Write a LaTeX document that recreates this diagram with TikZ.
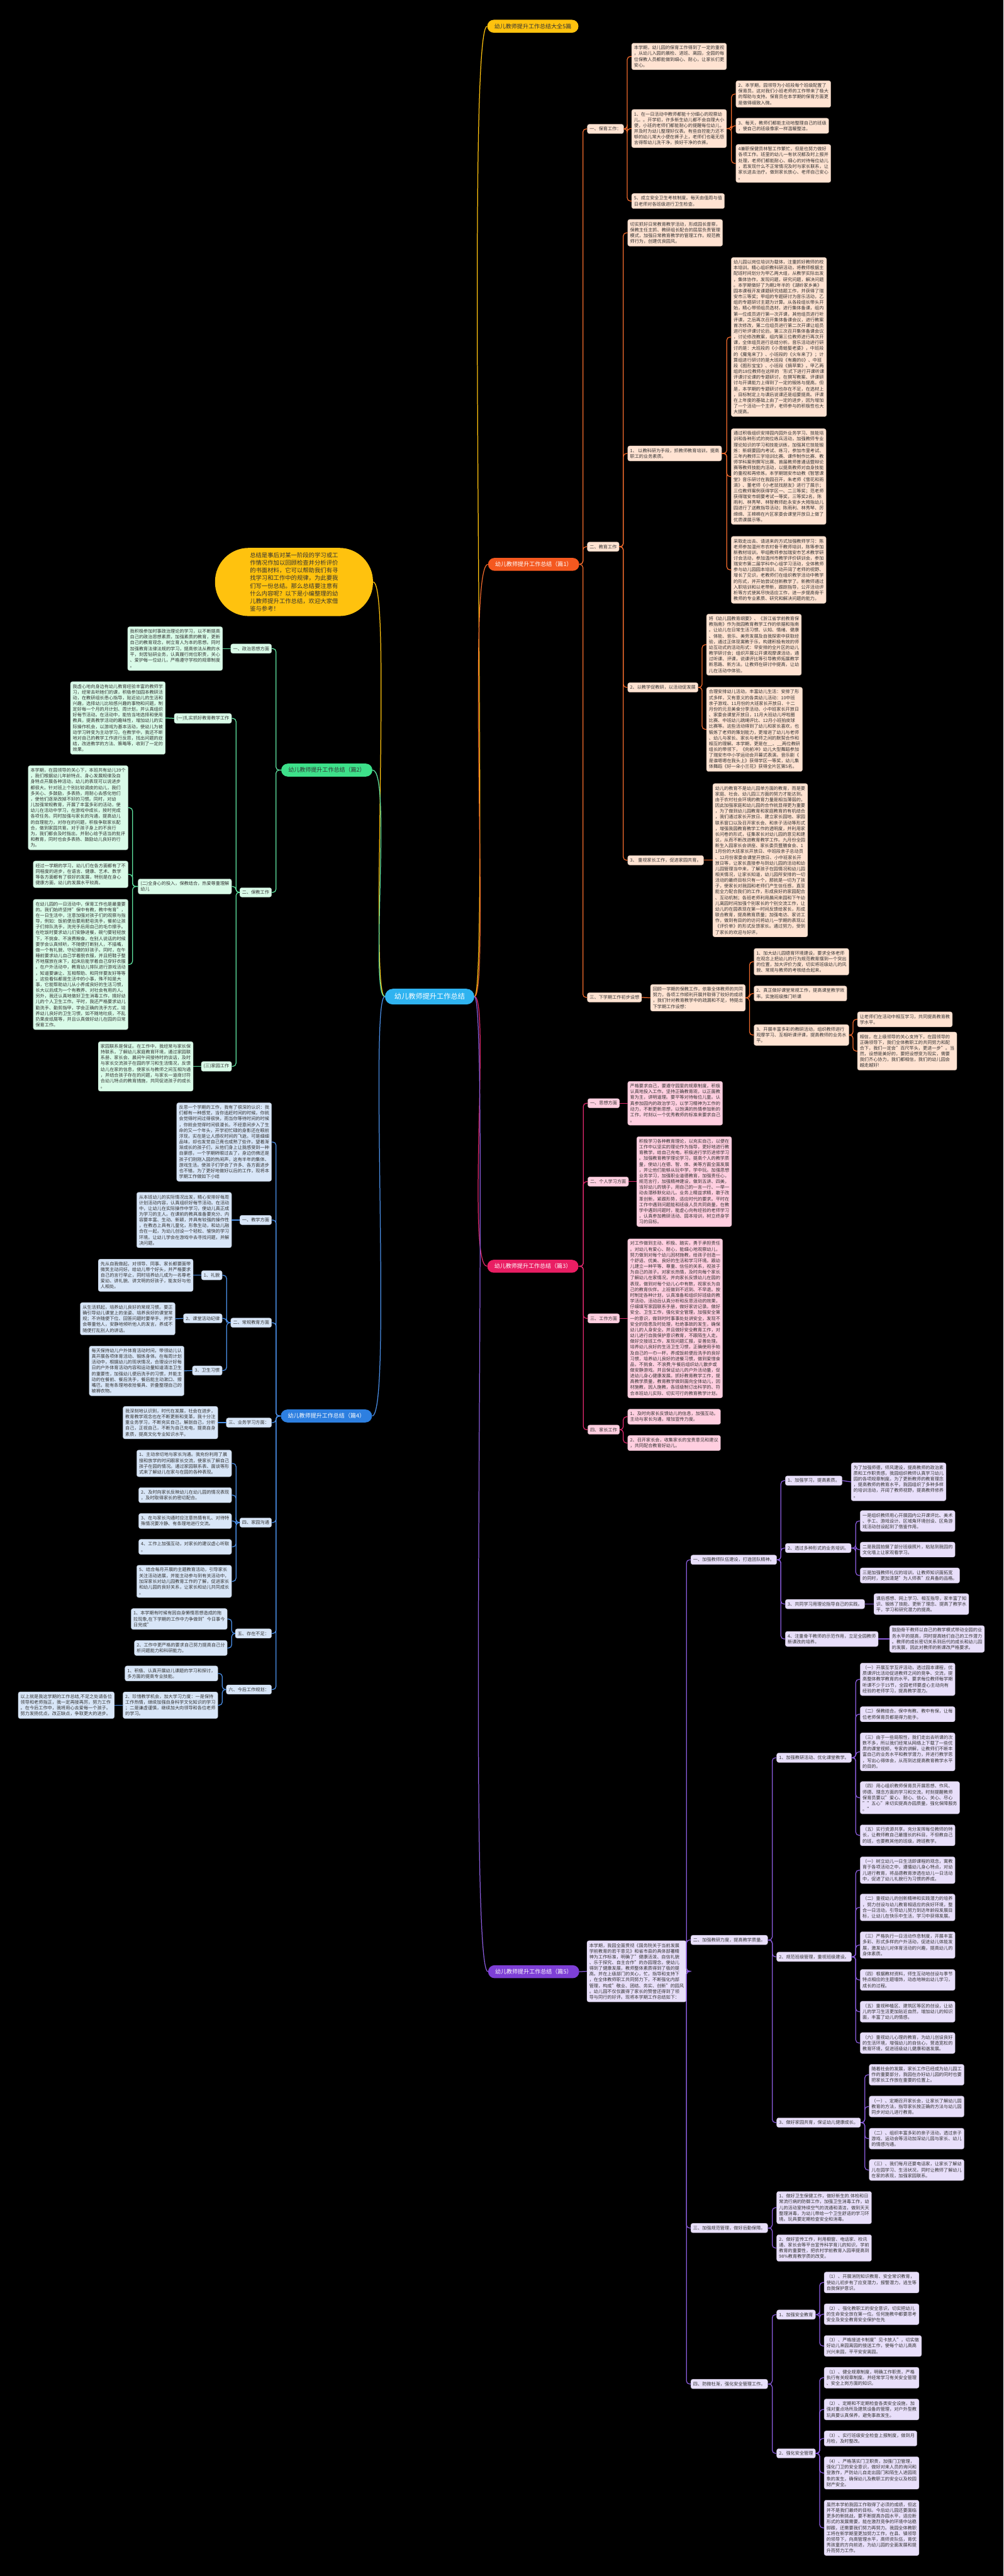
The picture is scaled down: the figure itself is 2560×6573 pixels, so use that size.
\documentclass[tikz,border=0pt]{standalone}
\usepackage{fontspec}
\setmainfont{Noto Sans CJK SC}
\usetikzlibrary{calc}
\definecolor{txt}{HTML}{333333}
\definecolor{yel}{HTML}{FFC20E}
\definecolor{orgT}{HTML}{F4581F}
\definecolor{oline}{HTML}{F06A2C}
\definecolor{ofill}{HTML}{FFE3D2}
\definecolor{pinkT}{HTML}{E91E63}
\definecolor{pline}{HTML}{E0286E}
\definecolor{pfill}{HTML}{FFCFE0}
\definecolor{vioT}{HTML}{7E3FD6}
\definecolor{vline}{HTML}{8A5CDC}
\definecolor{vfill}{HTML}{E8DFFA}
\definecolor{grnT}{HTML}{3DE08A}
\definecolor{gline}{HTML}{5EE3A0}
\definecolor{gfill}{HTML}{D9FBE8}
\definecolor{bluT}{HTML}{2D7FE0}
\definecolor{bline}{HTML}{4A8FE7}
\definecolor{bfill}{HTML}{D8E6F8}
\definecolor{rootC}{HTML}{2FB3F0}
\tikzset{
 base/.style={rounded corners=2.5pt, align=left, inner xsep=3pt, inner ysep=3.3pt, font=\fontsize{5.75pt}{7.35pt}\selectfont, text=txt, anchor=west, line width=0.3pt},
 ob/.style={base, fill=ofill, draw=ofill!80!black},
 pb/.style={base, fill=pfill, draw=pfill!80!black},
 vb/.style={base, fill=vfill, draw=vfill!80!black},
 gb/.style={base, fill=gfill, draw=gfill!80!black, anchor=east},
 bb/.style={base, fill=bfill, draw=bfill!80!black, anchor=east},
 ln/.style={line width=1pt, rounded corners=4pt},
 oc/.style={ln, draw=oline}, pc/.style={ln, draw=pline}, vc/.style={ln, draw=vline},
 gc/.style={ln, draw=gline}, bc/.style={ln, draw=bline},
 rr/.style={to path={-| ($(\tikztotarget)+(-#1,0)$) -- (\tikztotarget)}}, rr/.default=11,
 ll/.style={to path={-| ($(\tikztotarget)+(#1,0)$) -- (\tikztotarget)}}, ll/.default=11,
 ttl/.style={rounded corners=8.25pt, inner xsep=9pt, inner ysep=0pt, minimum height=16.5pt, font=\fontsize{7.25pt}{8pt}\selectfont},
 top/.style={line width=1pt},
}
\begin{document}
\begin{tikzpicture}[x=0.5pt,y=-0.5pt]
\useasboundingbox (0,0) rectangle (2560,6573);
\fill[black] (0,0) rectangle (2560,6573);

% ---------------- root
\node[fill=rootC, text=white, rounded corners=10pt, minimum height=20pt, inner xsep=12pt, font=\fontsize{9pt}{10pt}\selectfont] (root) at (1096,2543) {幼儿教师提升工作总结};

% ---------------- titles
\node[ttl, fill=yel, text=black!80, anchor=east] (t0) at (1476,67) {幼儿教师提升工作总结大全5篇};
\node[ttl, fill=orgT, text=white, anchor=east] (t1) at (1478,1440) {幼儿教师提升工作总结（篇1）};
\node[ttl, fill=pinkT, text=white, anchor=east] (t3) at (1476,3231) {幼儿教师提升工作总结（篇3）};
\node[ttl, fill=vioT, text=white, anchor=east] (t5) at (1478,5031) {幼儿教师提升工作总结（篇5）};
\node[ttl, fill=grnT, text=black!80, anchor=west] (t2) at (717,1965) {幼儿教师提升工作总结（篇2）};
\node[ttl, fill=bluT, text=white, anchor=west] (t4) at (716,3613) {幼儿教师提升工作总结（篇4）};
\node[fill=yel, text=black!80, rounded corners=43pt, minimum width=201.5pt, minimum height=87pt, align=left, font=\fontsize{7.5pt}{9.85pt}\selectfont] (blob) at (750,1485) {总结是事后对某一阶段的学习或工\\作情况作加以回顾检查并分析评价\\的书面材料，它可以帮助我们有寻\\找学习和工作中的规律，为此要我\\们写一份总结。那么总结要注意有\\什么内容呢？以下是小编整理的幼\\儿教师提升工作总结，欢迎大家借\\鉴与参考！};

\draw[top, draw=yel] (root.east) .. controls (1250,2543) and (1185,67) .. (t0.west);
\draw[top, draw=oline] (root.east) .. controls (1250,2543) and (1190,1440) .. (t1.west);
\draw[top, draw=pline] (root.east) .. controls (1250,2543) and (1190,3231) .. (t3.west);
\draw[top, draw=vline] (root.east) .. controls (1250,2543) and (1190,5031) .. (t5.west);
\draw[top, draw=yel] (root.west) .. controls (942,2543) and (1000,1485) .. (blob.east);
\draw[top, draw=gline] (root.west) .. controls (942,2543) and (1000,1965) .. (t2.east);
\draw[top, draw=bline] (root.west) .. controls (942,2543) and (1000,3613) .. (t4.east);

% ================= 篇1
\node[ob] (n11) at (1498,329) {一、保育工作：};
\node[ob] (n111) at (1611,144) {本学期，幼儿园的保育工作得到了一定的重视\\，从幼儿入园的晨检、进班、离园，全园的每\\位保教人员都能做到细心、耐心，让家长们更\\安心。};
\node[ob] (n112) at (1611,328) {1、在一日活动中教师都能十分细心的观察幼\\儿。。开学初，许多新生幼儿都不会自理大小\\便，小班的老师们都能耐心的提醒每位幼儿，\\并及时为幼儿整理好仪表。有些自控能力还不\\够的幼儿常大小便在裤子上，老师们也毫无怨\\言得帮幼儿洗干净，换好干净的衣裤。};
\node[ob] (n1121) at (1877,240) {2、本学期，园领导为小班段每个班级配置了\\保育员。这对我们小班老师的工作带来了极大\\的帮助与支持。保育员在本学期的保育方面更\\是做得细致入微。};
\node[ob] (n1122) at (1877,321) {3、每天，教师们都能主动地整理自己的班级\\，使自己的班级像家一样温暖整洁。};
\node[ob] (n1123) at (1877,417) {4兼职保健员林智工作繁忙，但是也努力做好\\各项工作。班里的幼儿一有状况都及时上报并\\处理，老师们都能耐心、细心的对待每位幼儿\\，若发现什么不正常情况及时与家长联系，让\\家长送去治疗。做到家长放心、老师自己安心\\。};
\node[ob] (n113) at (1611,513) {5、成立安全卫生考核制度。每天由值周与值\\日老师对各班级进行卫生检查。};

\node[ob] (n12) at (1498,1395) {二、教育工作};
\node[ob] (n121) at (1601,594) {切实抓好日常教育教学活动，形成园长督察，\\保教主任主抓、教研组长配合的层层负责管理\\模式，加强日常教育教学的管理工作。规范教\\师行为，创建优良园风。};
\node[ob] (n122) at (1601,1157) {1、 以教科研为手段，抓教师教育培训，提高\\职工的业务素质。};
\node[ob] (n1221) at (1865,860) {幼儿园以岗位培训为载体，注重抓好教师的校\\本培训。精心组织教科研活动，将教师根据主\\配班时间划分为甲乙两大组，从教学实际出发\\，集体协作，发现问题，研究问题，解决问题\\。本学期做好了为期2年半的《湖岭家乡美》\\园本课程开发课题研究结题工作，并获得了瑞\\安市三等奖；甲组的专题研讨为音乐活动，乙\\组的专题研讨主题为计算。从各段组长带头开\\始，精心带领组员选材，进行集体备课，组内\\第一位成员进行第一次开课，其他组员进行听\\评课，之后再次召开集体备课会议，进行教案\\首次修改，第二位组员进行第二次开课让组员\\进行听评课讨论后，第三次召开集体备课会议\\，讨论修改教案，组内第三位教师进行再次开\\课，全体组员进行总结分析。音乐活动进行研\\讨的是：大班段的《小青蛙娶老婆》，中班段\\的《魔鬼来了》、小班段的《火车来了》；计\\算组进行研讨的是大班段《有趣的0》、中班\\段《图形宝宝》、小班段《摘苹果》。甲乙两\\组的18位教师在这样的`形式下进行开课听课\\评课讨论课的专题研讨，在撰写教案、评课研\\讨与开课能力上得到了一定的锻炼与提高。但\\是，本学期的专题研讨也存在不足，在选材上\\，目标制定上与课后说课还是组要提高。评课\\在上年度的基础上由了一定的进步，因为增加\\了一个活动一个主评，老师参与的积极性也大\\大提高。};
\node[ob] (n1222) at (1865,1216) {通过积极组织安排园内园外业务学习、技能培\\训和各种形式的岗位练兵活动，加强教师专业\\理论知识的学习和技能训练，加强其它技能锻\\炼：新纲要园内考试、练习，参加市里考试、\\三年内教师三字培训比赛、课件制作比赛、教\\师学科案例撰写比赛、首届教师普通话暨辩论\\赛等教师技能内活动，以提高教师对自身技能\\的重视和再修炼。本学期瑞安市幼教《智慧课\\堂》音乐研讨在我园召开，朱老师《雪花和雨\\滴》、董老师《小老鼠找朋友》进行了展示；\\三位教师案例获得学区一、二三等奖；范老师\\获得瑞安市纲要考试一等奖，三等奖2名，陈\\雨利、林秀琴、林智教师赴永安乡大拇指幼儿\\园进行了送教指导活动；陈雨利、林秀琴、厉\\绵绵、王棉棉在片区家委会课堂开放日上做了\\优质课展示等。};
\node[ob] (n1223) at (1865,1454) {采取走出去、请进来的方式加强教师学习：陈\\老师参加温州市农村骨干教师培训，陈等参加\\新教材培训，甲组教师参加瑞安市艺术教学研\\讨会活动，参加温州市教学评价研训会，参加\\瑞安市第二届学科中心组学习活动，全体教师\\参与幼儿园园本培训。动开阔了老师的视野、\\增长了见识，老教师们在组织教学活动中教学\\的形式，并开始尝试创新教学了。新教师通过\\入职培训和以老带新，跟踪指导，公开活动评\\析等方式使其尽快适应工作，进一步提高骨干\\教师的专业素质、研究和解决问题的能力。};
\node[ob] (n123) at (1601,1754) {2、以教学促教研，以活动促发展};
\node[ob] (n1231) at (1802,1645) {将《幼儿园教育纲要》、《浙江省学前教育保\\教指南》作为我园教育教学工作的依据和指南\\。让幼儿在日常生活习惯、认知、情绪、健康\\、体能、音乐、美劳发展及自我探索中获取经\\验，通过正体现寓教于乐，构建积极有效的师\\幼互动式的活动形式：早安排的全片区的幼儿\\教学研讨会；组织开展公开课观摩课活动，通\\过听课、评课，说课评比等引导教师拓展教学\\新思路、新方法。让教师在研讨中提高，让幼\\儿在活动中体验。};
\node[ob] (n1232) at (1802,1861) {合理安排幼儿活动，丰富幼儿生活：安排了形\\式多样，又有意义的各类幼儿活动：10中班\\亲子游戏、11月份的大班家长开放日、十二\\月份的元旦美食分享活动、小中班家长开放日\\、家委会课堂开放日，11月大班幼儿呼啦圈\\比赛、中班幼儿跳绳评比、12月小班拍皮球\\比赛等。这些活动得到了幼儿和家长喜欢，也\\锻炼了老师的策划能力，更增进了幼儿与老师\\、幼儿与家长、家长与老师之间的默契合作和\\相互的理解。本学期，更是在\_\_、\_\_两位教研\\组长的带领下，《向前冲》幼儿大型舞蹈参加\\了瑞安市中小学运动会开幕式表演。音乐剧《\\是谁嗯嗯在我头上》获得学区一等奖，幼儿集\\体舞蹈《好一朵小兰花》获得全片区第5名。};
\node[ob] (n124) at (1601,2195) {3、 重视家长工作，促进家园共育。};
\node[ob] (n1241) at (1818,2195) {幼儿的教育不是幼儿园单方面的教育，而是要\\家庭、社会、幼儿园三方面的努力才能达到。\\由于农村社会环境的教育力量是相当薄弱的，\\因此加强家庭和幼儿园的合作就显得更为重要\\，为了做到幼儿园教育和家庭教育的有机结合\\，我们通过家长开放日、建立家长园地、家园\\联系窗口以及召开家长会、和亲子活动等形式\\，增强我园教育教学工作的透明度，并利用家\\长问卷的形式，征集家长对幼儿园的意见和建\\议，从而不断改进教育教学工作。九月份全园\\新生入园家长会讲座、家长委员暨膳食会、1\\1月份的大班家长开放日、中班段亲子总动员\\、12月份家委会课堂开放日、小中班家长开\\放日等，让家长直接参与到幼儿园的活动和幼\\儿园管理当中来，了解孩子在园情况和幼儿园\\相关情况，让家长知道，幼儿园所安排的一切\\活动的最终目标只有一个，那就是一切为了孩\\子，使家长对我园和老师们产生信任感，直至\\能全力配合我们的工作，形成良好的家园配合\\、互动机制；各班老师利用晨间来园和下午幼\\儿离园时间加强个别家长的个别交流工作，让\\幼儿的在园表现在第一时间反馈给家长，形成\\联合教育，提高教育质量；加强电访、家访工\\作，做到有目的的访问将幼儿一学期的表现以\\《评价单》的形式反馈家长。通过努力，受到\\了家长的欢迎与好评。};

\node[ob] (n13) at (1498,2545) {三、下学期工作初步设想};
\node[ob] (n131) at (1659,2546) {回顾一学期的保教工作，依靠全体教师的共同\\努力，各项工作顺利开展并取得了较好的成绩\\，我们针对教育教学中的疏漏和不足，特提出\\下学期工作设想：};
\node[ob] (n1311) at (1923,2454) {1、加大幼儿园德育环境建设，要求全体老师\\在观念上把幼儿的行为规范教育摆到一个突出\\的位置，加大评价力度，切实将班级幼儿的风\\貌、常规与教师的考核结合起来。};
\node[ob] (n1312) at (1923,2535) {2、真正做好课堂常规工作，提高课堂教学效\\率。实施班级推门听课};
\node[ob] (n1313) at (1923,2641) {3、开展丰富多彩的教研活动，组织教师进行\\观摩学习、互相听课评课，提高教师的业务水\\平。};
\node[ob] (n13131) at (2187,2601) {让老师们在活动中相互学习，共同提高教育教\\学水平。};
\node[ob] (n13132) at (2187,2682) {相信，在上级领导的关心支持下，在园领导的\\正确领导下，我们全体教职工的共同努力和配\\合下，我们一定会"百尺竿头，更进一步"。当\\然，设想是美好的，要把设想变为现实，需要\\我们齐心协力，我们都相信，我们的幼儿园会\\越走越好!};

\foreach \c in {n11,n12,n13} \draw[oc] (t1.east) to[rr] (\c.west);
\foreach \c in {n111,n112,n113} \draw[oc] (n11.east) to[rr] (\c.west);
\foreach \c in {n1121,n1122,n1123} \draw[oc] (n112.east) to[rr] (\c.west);
\foreach \c in {n121,n122,n123,n124} \draw[oc] (n12.east) to[rr] (\c.west);
\foreach \c in {n1221,n1222,n1223} \draw[oc] (n122.east) to[rr] (\c.west);
\foreach \c in {n1231,n1232} \draw[oc] (n123.east) to[rr] (\c.west);
\draw[oc] (n124.east) -- (n1241.west);
\draw[oc] (n13.east) -- (n131.west);
\foreach \c in {n1311,n1312,n1313} \draw[oc] (n131.east) to[rr] (\c.west);
\foreach \c in {n13131,n13132} \draw[oc] (n1313.east) to[rr] (\c.west);

% ================= 篇3
\node[pb] (n31) at (1499,2815) {一、思想方面};
\node[pb] (n311) at (1601,2815) {严格要求自己，要遵守园里的规章制度，积极\\认真地投入工作。坚持正确教育观，以正面教\\育为主，讲明道理。要平等对待每位儿童。认\\真参加园内的政治学习，以学习精神为工作的\\动力，不断更新思想，以饱满的热情参加新的\\工作，时刻以一个优秀教师的标准来要求自己\\。};
\node[pb] (n32) at (1499,3015) {二、个人学习方面};
\node[pb] (n321) at (1624,3015) {积极学习各种教育理论，以充实自己，以便在\\工作中以坚实的理论作为指导，更好地进行教\\育教学，给自己充电，积极进行学历进修学习\\。加强教育教学理论学习，提高个人的教学质\\量，使幼儿在德、智、体、美等方面全面发展\\，并让他们能够从玩中学，学中玩。加强思想\\业务学习，加强职业道德教育，加强责任心，\\规范言行，加强精神建设，做到五讲、四美，\\当好幼儿的镜子，用自己的一言一行、一举一\\动去潜移默化幼儿。业务上精益求精，敢于改\\革创新，紧跟形势，适应时代的要求。平时在\\工作中遇到问题能和班级人员共同商量，在教\\学中遇到问题时，能虚心向有经验的老师学习\\，认真参加教研活动、园本培训，树立终身学\\习的目标。};
\node[pb] (n33) at (1499,3364) {三、工作方面};
\node[pb] (n331) at (1601,3364) {对工作做到主动、积极、踏实，勇于承担责任\\。对幼儿有爱心、耐心，能细心地观察幼儿，\\努力做到对每个幼儿因材施教，给孩子创造一\\个舒适、优美、良好的生活和学习环境。跟幼\\儿建立一种平等、尊重、信任的关系，视孩子\\为自己的孩子。对家长热情，及时向每个家长\\了解幼儿在家情况，并向家长反馈幼儿在园的\\表现，做到对每个幼儿心中有数，视家长为自\\己的教育伙伴。上班做到不迟到、不早退。按\\时制定各种计划，认真准备和组织好班级的教\\学活动，活动后认真分析和反思活动的效果，\\仔细填写家园联系手册，做好家访记录。做好\\安全、卫生工作，强化安全管理，加强安全第\\一的意识，做到时时事事处处讲安全，发现不\\安全的隐患及时处理，杜绝事故的发生，确保\\幼儿的人身安全。并且做好安全教育工作，对\\幼儿进行自我保护意识教育，不跟陌生人走。\\做好交接班工作，发现问题汇报，妥善处理。\\培养幼儿良好的生活卫生习惯，正确使用手帕\\及自己的一巾一杯，养成饭前便后洗手的良好\\习惯，培养幼儿良好的进餐习惯，做到爱惜食\\品，不挑食、不浪费;午餐后组织幼儿散步或\\做安静游戏。并且保证幼儿的户外活动量，促\\进幼儿身心健康发展。抓好教育教学工作，提\\高教学质量，教育教学做到面向全体幼儿，因\\材施教，因人施教，各班级制订出科学的、符\\合本班幼儿实际、切实可行的教育教学计划。};
\node[pb] (n34) at (1499,3648) {四、家长工作};
\node[pb] (n341) at (1601,3615) {1、及时向家长反馈幼儿的信息，加强互动。\\主动与家长沟通，增加宣传力度。};
\node[pb] (n342) at (1601,3682) {2、召开家长会，收集家长的宝贵意见和建议\\，共同配合教育好幼儿。};
\foreach \c in {n31,n32,n33,n34} \draw[pc] (t3.east) to[rr] (\c.west);
\draw[pc] (n31.east) -- (n311.west);
\draw[pc] (n32.east) -- (n321.west);
\draw[pc] (n33.east) -- (n331.west);
\foreach \c in {n341,n342} \draw[pc] (n34.east) to[rr] (\c.west);

% ================= 篇5
\node[vb] (n5) at (1497,5030) {本学期，我园全面贯彻《国务院关于当前发展\\学前教育的若干意见》和省市县的具体部署精\\神为工作标准，明确了"健康活泼、自信礼貌\\、乐于探究、自主合作"的办园理念，使幼儿\\得到了健康发展，教师整体素质得到了极的提\\高。并在上级部门的关心，忙，指导和支持下\\，在全体教师职工共同努力下，不断强化内部\\管理，构成"敬业、团结、务实、创新"的园风\\。幼儿园不仅仅赢得了家长的赞誉还得到了领\\导与同行的好评。现将本学期工作总结如下：};
\node[vb] (n51) at (1762,3980) {一、加强教师队伍建设，打造团队精神。};
\node[vb] (n511) at (2003,3778) {1、加强学习，提高素质。};
\node[vb] (n5111) at (2171,3781) {为了加强师德，师风建设，提高教师的政治素\\质和工作职责感，我园组织教师认真学习幼儿\\园的各项规章制度。为了更新教师的教育理念\\，提高教师的教育水平，我园组织了多种多样\\的培训活动，开阔了教师视野，提高教师修养\\。};
\node[vb] (n512) at (2003,3950) {2、透过多种形式的业务培训。};
\node[vb] (n5121) at (2194,3881) {一是组织教师用心开展园内公开课评比、美术\\、手工、游戏设计、区域角环境创设、区角游\\戏活动创设起到了借鉴作用。};
\node[vb] (n5122) at (2194,3954) {二是我园拍摄了部分班级照片，粘贴到我园的\\文化墙上让家观看学习。};
\node[vb] (n5123) at (2194,4020) {三是加强教师礼仪的培训，让教师知识面拓宽\\的同时，更加清楚"为人师表"应具备的品格。};
\node[vb] (n513) at (2003,4093) {3、共同学习用理论指导自己的实践。};
\node[vb] (n5131) at (2229,4093) {课后感想、网上学习、相互指导，家丰富了知\\识、锻炼了技能、更新了理念、提高了教学水\\平，学习和研究潜力的提高。};
\node[vb] (n514) at (2003,4182) {4、注重骨干教师的示范作用，立足全园教师\\新课改的培养。};
\node[vb] (n5141) at (2269,4182) {鼓励骨干教师以自己的教学模式带动全园的业\\务水平的提高，同时提高她们自己的工作潜力\\。教师的成长密切关系到后代的成长和幼儿园\\的发展，因此对教师的新课改严格要求。};

\node[vb] (n52) at (1762,4950) {二、加强教研力度，提高教学质量。};
\node[vb] (n521) at (1981,4485) {1、加强教研活动、优化课堂教学。};
\node[vb] (n5211) at (2194,4285) {（一）开展互学互评活动，透过园本课程，优\\质课评比活动促进教师之间的竞争、交流，提\\高整体教学教育的水平。要求每位教师每学期\\听课不少于15节，全园老师要虚心主动向有\\经验的老师学习，提高教学潜力。};
\node[vb] (n5212) at (2194,4374) {（二）保教结合。保中有教、教中有保，让每\\位老师保育员都是得力能手。};
\node[vb] (n5213) at (2194,4470) {（三）由于一些局限性，我们走出去听课的次\\数不多，所以我们经常从网络上下载了一些优\\质的课堂视频，专家的讲解，让教师们不断丰\\富自己的业务水平和教学潜力，并进行教学思\\，写出心得体会，从而到达提高教育教学水平\\的目的。};
\node[vb] (n5214) at (2194,4587) {（四）用心组织教师保育员开展思想、作风、\\师德、理念方面的学习和交流。时刻提醒教师\\保育员要以"爱心、耐心、信心、关心、尽心\\""五心"来切实提高办园质量，强化保障服务\\。"};
\node[vb] (n5215) at (2194,4683) {（五）实行资源共享。充分发挥每位教师的特\\长，让教师教自己最擅长的科目，不但教自己\\的班，也要教其他的班级，跨班教学。};
\node[vb] (n522) at (1981,4993) {2、规范班级管理，重视班级建设。};
\node[vb] (n5221) at (2194,4772) {（一）树立幼儿一日生活即课程的观念，寓教\\育于各项活动之中，遵循幼儿身心特点，对幼\\儿进行教育，将品德教育渗透在幼儿一日活动\\中，促进了幼儿礼貌行为习惯的养成。};
\node[vb] (n5222) at (2194,4867) {（二）重视幼儿的创新精神和实践潜力的培养\\，努力创设与幼儿教育相适应的良好环境，整\\合一日活动，引导幼儿努力到达年龄段发展目\\标，让幼儿在快乐中生活，学习中获得发展。};
\node[vb] (n5223) at (2194,4963) {（三）严格执行一日活动作息制度，开展丰富\\多彩、形式多样的户外活动，促进幼儿体能发\\展，激发幼儿对体育活动的兴趣，提高幼儿的\\身体素质。};
\node[vb] (n5224) at (2194,5052) {（四）根据教材资料，师生互动地创设与季节\\特点相应的主题墙饰，动态地映出幼儿学习，\\成长的过程。};
\node[vb] (n5225) at (2194,5133) {（五）重视种植区、建筑区等区的创设，让幼\\儿的学习生活更加贴近自然，增加幼儿的知识\\面，丰富了幼儿的情感。};
\node[vb] (n5226) at (2194,5213) {（六）重视幼儿心理的教育，为幼儿创设良好\\的生活环境，增强幼儿的自信心，营造宽松的\\教育环境，促进班级幼儿健康和谐发展。};
\node[vb] (n523) at (1981,5416) {3、做好家园共育，保证幼儿健康成长。};
\node[vb] (n5231) at (2217,5294) {随着社会的发展，家长工作已经成为幼儿园工\\作的重要部分，我园在办好幼儿园的同时也要\\把家长工作放在重要的位置上。};
\node[vb] (n5232) at (2217,5375) {（一）、定期召开家长会，让家长了解幼儿园\\教育的方法，指导家长按正确的方法与幼儿园\\同步对幼儿进行教育。};
\node[vb] (n5233) at (2217,5457) {（二）、组织丰富多彩的亲子活动，透过亲子\\游戏、运动会等活动加深幼儿园与家长、幼儿\\的情感沟通。};
\node[vb] (n5234) at (2217,5537) {（三）、我们每月还要电话家，让家长了解幼\\儿在园学习、生活状况，同时让教师了解幼儿\\在家的表现，加强家园联系。};

\node[vb] (n53) at (1762,5685) {三、加强规范管理，做好后勤保障。};
\node[vb] (n531) at (1981,5633) {1、做好卫生保健工作，做好新生的.体检和日\\常流行病的防御工作，加强卫生消毒工作，幼\\儿的活动室持续空气的流通和清洁，做到天天\\整理消毒，为幼儿带给一个卫生舒适的学习环\\境。玩具要定期检查安全和消毒。};
\node[vb] (n532) at (1981,5736) {2、做好宣传工作，利用橱窗、电话家、校讯\\通、家长会等平台宣传科学育儿的知识，学前\\教育的重要性，把农村学前教育入园率提高到\\98\%教育教学质的改变。};

\node[vb] (n54) at (1762,6083) {四、防微杜渐，强化安全管理工作。};
\node[vb] (n541) at (1981,5906) {1、加强安全教育};
\node[vb] (n5411) at (2102,5824) {（1）、开展消防知识教育、安全常识教育，\\使幼儿初步有了应变潜力，报警潜力，逃生等\\自我保护意识。};
\node[vb] (n5412) at (2102,5905) {（2）、强化教职工的安全意识，切实把幼儿\\的生命安全放在第一位。任何施教中都要思考\\安全及安全教育安全保护在先};
\node[vb] (n5413) at (2102,5986) {（3）、严格接送卡制度"见卡放人"，切实做\\好幼儿来园离园的接送工作，使每个幼儿高高\\兴兴来园，平平安安离园。};
\node[vb] (n542) at (1981,6260) {2、强化安全管理};
\node[vb] (n5421) at (2102,6067) {（1）、健全规章制度，明确工作职责，严格\\执行有关规章制度。并经常学习有关安全管理\\、安全上岗方面的知识。};
\node[vb] (n5422) at (2102,6148) {（2）、定期和不定期检查各类安全设施，加\\强对重点场所及建筑设备的管理，对户外型教\\玩具要认真保养，避免事故发生。};
\node[vb] (n5423) at (2102,6222) {（3）、实行班级安全检查上报制度，做到月\\月检，及时整改。};
\node[vb] (n5424) at (2102,6310) {（4）、严格落实门卫职责，加强门卫管理，\\强化门卫的安全意识，做好对来人员的询问和\\登激作，严防幼儿自走出园门和陌生人进园观\\象的发生，确保幼儿及教职工的安全以及校园\\财产安全。};
\node[vb] (n5425) at (2102,6450) {虽然本学前我园工作取得了必须的成绩，但这\\并不是我们最终的目标。今后幼儿园还要面临\\更多的新挑战，要不断提高办园水平，适应新\\形式的发展需要，能在激烈竞争的环境中站稳\\脚跟，还需要我们努力再努力。我园全体教职\\工将在新学期里更加努力工作，在县、镇领导\\的领导下，向高管理水平，高师资队伍，育优\\秀孩童的方向前进，为幼儿园的全面发展和提\\升而努力工作。};

\draw[vc] (t5.east) -- (n5.west);
\foreach \c in {n51,n52,n53,n54} \draw[vc] (n5.east) to[rr] (\c.west);
\foreach \c in {n511,n512,n513,n514} \draw[vc] (n51.east) to[rr] (\c.west);
\draw[vc] (n511.east) -- (n5111.west);
\foreach \c in {n5121,n5122,n5123} \draw[vc] (n512.east) to[rr] (\c.west);
\draw[vc] (n513.east) -- (n5131.west);
\draw[vc] (n514.east) -- (n5141.west);
\foreach \c in {n521,n522,n523} \draw[vc] (n52.east) to[rr] (\c.west);
\foreach \c in {n5211,n5212,n5213,n5214,n5215} \draw[vc] (n521.east) to[rr] (\c.west);
\foreach \c in {n5221,n5222,n5223,n5224,n5225,n5226} \draw[vc] (n522.east) to[rr] (\c.west);
\foreach \c in {n5231,n5232,n5233,n5234} \draw[vc] (n523.east) to[rr] (\c.west);
\foreach \c in {n531,n532} \draw[vc] (n53.east) to[rr] (\c.west);
\foreach \c in {n541,n542} \draw[vc] (n54.east) to[rr] (\c.west);
\foreach \c in {n5411,n5412,n5413} \draw[vc] (n541.east) to[rr] (\c.west);
\foreach \c in {n5421,n5422,n5423,n5424,n5425} \draw[vc] (n542.east) to[rr] (\c.west);

% ================= 篇2
\node[gb] (n21) at (693,1655) {一、政治思想方面};
\node[gb] (n211) at (568,1655) {我积极参加时事政治理论的学习，以不断提高\\自己的政治思想素质，加强素质的教育，更新\\自己的教育观念，树立育人为本的思想。同时\\加强教育法律法规的学习，提高依法从教的水\\平，刻苦钻研业务，认真履行岗位职责，关心\\、爱护每一位幼儿，严格遵守学校的规章制度\\。};
\node[gb] (n22) at (693,2277) {二、保教工作};
\node[gb] (n221) at (591,1833) {(一)扎实抓好教育教学工作};
\node[gb] (n2211) at (422,1832) {我虚心地向身边有幼儿教育经验丰富的教师学\\习，经常去听她们的课，积极参加园本教研活\\动，在教研组长悉心指导，贴近幼儿的生活和\\兴趣，选择幼儿比较感兴趣的事物和问题，制\\定好每一个月的月计划、周计划，并认真组织\\好每节活动。在活动中，能恰当地选择和使用\\教具，提高教学活动的趣味性，增加幼儿的实\\际操作机会，以游戏为基本活动，使幼儿为被\\动学习转变为主动学习。在教学中，我还不断\\地对自己的教学工作进行反思，找出问题的症\\结，改进教学的方法、策略等，收到了一定的\\效果。};
\node[gb] (n222) at (591,2262) {(二)全身心的投入，保教结合，热爱尊重理解\\幼儿};
\node[gb] (n2221) at (327,2061) {本学期，在园领导的关心下，本班共有幼儿39个\\，我们根据幼儿年龄特点、身心发展规律及自\\身特点开展各种活动，幼儿的表现可以说进步\\都很大。针对班上个别比较调皮的幼儿，我们\\多关心、多鼓励，多表扬，用耐心去感化他们\\，使他们逐渐改掉不好的习惯。同时，对幼\\儿加强常规教育，开展了丰富多彩的活动，使\\幼儿在活动中学习，在游戏中成长，按时完成\\各项任务。同时加强与家长的沟通，提高幼儿\\的自理能力，对存在的问题，积极争取家长配\\合，做到家园共育。对于孩子身上的不良行\\为，我们都会及时指出，并耐心给予适当的批评\\和教育，同时也会多表扬、鼓励幼儿良好的行\\为。};
\node[gb] (n2222) at (327,2231) {经过一学期的学习，幼儿们在各方面都有了不\\同程度的进步，在语言、健康、艺术、数学\\等各方面都有了很好的发展，特别是在身心\\健康方面，幼儿的发展水平较高。};
\node[gb] (n2223) at (327,2461) {在幼儿园的一日活动中，保育工作也是最重要\\的。我们始终坚持"保中有教，教中有育"，\\在一日生活中，注意加强对孩子们的观察与指\\导，例如：饭前便后要用肥皂洗手，餐前让孩\\子们排队洗手，洗完手后用自己的毛巾擦手。\\在吃饭时要求幼儿们安静进餐，碗勺要轻轻放\\下，不挑食、不浪费粮食。在别人说话的时候\\要学会认真倾听，不随便打断别人，不插嘴，\\做一个有礼貌、守纪律的好孩子。同时，在午\\睡前要求幼儿自己学着脱衣服，并且把鞋子整\\齐地摆放在床下，起床后能学着自己穿好衣服\\。在户外活动中，教育幼儿排队进行游戏活动\\，知道要谦让、互相帮助、和同伴要友好等等\\。这些看似都是生活中的小事，殊不知是大\\事，它能帮助幼儿从小养成良好的生活习惯，\\长大以后成为一个有教养、对社会有用的人。\\另外，我还认真地做好卫生消毒工作，搞好幼\\儿的个人卫生工作。平时，我还严格要求幼儿\\勤洗手、勤剪指甲，学会正确的洗手方式，培\\养幼儿良好的卫生习惯，如不随地吐痰，不乱\\扔果皮纸屑等，并且认真做好幼儿在园的日常\\保育工作。};
\node[gb] (n223) at (591,2721) {(三)家园工作};
\node[gb] (n2231) at (493,2721) {家园联系是保证。在工作中，我经常与家长保\\持联系，了解幼儿家庭教育环境，通过家园联\\系册、家长会、晨间午间接待时的谈话，及时\\与家长交流孩子在园的学习和生活情况，反馈\\幼儿在家的信息，使家长与教师之间互相沟通\\，并结合孩子存在的问题，与家长一道商讨符\\合幼儿特点的教育措施，共同促进孩子的成长\\。};
\foreach \c in {n21,n22} \draw[gc] (t2.west) to[ll] (\c.east);
\draw[gc] (n21.west) -- (n211.east);
\foreach \c in {n221,n222,n223} \draw[gc] (n22.west) to[ll] (\c.east);
\draw[gc] (n221.west) -- (n2211.east);
\foreach \c in {n2221,n2222,n2223} \draw[gc] (n222.west) to[ll] (\c.east);
\draw[gc] (n223.west) -- (n2231.east);

% ================= 篇4
\node[bb] (n40) at (693,2914) {反思一个学期的工作，我有了很深的认识：我\\们都有一种感觉，当你追赶时间的时候，你就\\会觉得时间过得很快，而当你等待时间的时候\\，你就会觉得时间很漫长。不经意间步入了生\\命的又一个年头，开学初忙碌的身影还在眼前\\浮现，实在是让人感叹时间的飞逝。可是细细\\品味，却也发觉自己竟也成熟了些许。望着渐\\渐成长的孩子们，从他们身上让我感受到一种\\自豪感，一个学期转眼过去了，身边仿佛还是\\孩子们刚刚入园的热闹声，这有半年的集体、\\游戏生活。使孩子们学会了许多、各方面进步\\也不错。为了更好地做好以后的工作，现将本\\学期工作做如下小结};
\node[bb] (n41) at (693,3113) {一、教学方面};
\node[bb] (n411) at (591,3113) {从本班幼儿的实际情况出发，精心安排好每周\\计划活动内容，认真组织好每节活动。在活动\\中，让幼儿在实际操作中学习，使幼儿真正成\\为学习的主人。在课前的教具准备要充分、内\\容要丰富、生动、新颖，并具有较强的操作性\\，在教态上具有儿童化，形象生动，和幼儿融\\合在一起，为幼儿创设一个轻松、愉快的学习\\环境。让幼儿学会在游戏中去寻找问题，并解\\决问题。};
\node[bb] (n42) at (693,3375) {二、常规教育方面};
\node[bb] (n421) at (567,3254) {1、礼貌};
\node[bb] (n4211) at (493,3254) {先从自我做起，对领导、同事、家长都要面带\\微笑主动问好。给幼儿带个好头，并严格要求\\自己的言行举止，同时培养幼儿成为一名尊老\\爱幼、讲礼貌、讲文明的好孩子，能友好与他\\人相处。};
\node[bb] (n422) at (567,3364) {2、课堂活动纪律};
\node[bb] (n4221) at (447,3365) {从生活抓起，培养幼儿良好的常规习惯。要正\\确引导幼儿课堂上的坐姿、培养良好的课堂常\\规；不许随便下位、回答问题时要举手、并学\\会尊重他人，安静地倾听他人的发言，养成不\\随便打乱别人的讲话。};
\node[bb] (n423) at (567,3497) {3、卫生习惯};
\node[bb] (n4231) at (470,3498) {每天保持幼儿户外体育活动时间，带领幼儿认\\真开展各项体育活动、锻炼身体。在每周计划\\活动中，根据幼儿的现状情况，合理设计好每\\日的户外体育活动内容和运动量知道清洁卫生\\的重要性，加强幼儿便后洗手的习惯，并能主\\动的在餐前、餐后洗手，餐后能主动漱口、擦\\嘴巴，能有条理地收拾餐具、折叠整理自己的\\被褥衣物。};
\node[bb] (n43) at (693,3630) {三、业务学习方面：};
\node[bb] (n431) at (556,3630) {我深刻地认识到，时代在发展，社会在进步，\\教育教学观念也在不断更新和变革，我十分注\\重业务学习，不断充实自己，解剖自己，分析\\自己，正视自己，不断为自己充电，提高自身\\素质，提高文化专业知识水平。};
\node[bb] (n44) at (693,3885) {四、家园沟通};
\node[bb] (n441) at (591,3734) {1、主动亲切地与家长沟通。我充份利用了晨\\接和放学的时间跟家长交流，使家长了解自己\\孩子在园的情况。通过家园联系表、面谈等形\\式来了解幼儿在家与在园的各种表现。};
\node[bb] (n442) at (591,3815) {2、及时向家长反映幼儿在幼儿园的情况表现\\，及时取得家长的密切配合。};
\node[bb] (n443) at (591,3881) {3、在与家长沟通时应注意热情有礼、对待特\\殊情况要冷静、有条理地进行交流。};
\node[bb] (n444) at (591,3947) {4、工作上加强互动，对家长的建议虚心听取\\。};
\node[bb] (n445) at (591,4035) {5、结合每月开展的主题教育活动，引导家长\\关注活动进展，并能主动参与到有关活动中，\\加深家长对幼儿园教育工作的了解，促进家长\\和幼儿园的良好关系，让家长和幼儿共同成长\\。};
\node[bb] (n45) at (693,4168) {五、存在不足：};
\node[bb] (n451) at (580,4131) {1、本学期有时候有因自身懒惰思想造成的拖\\拉现象,在下学期的工作中力争做到"今日事今\\日完成"};
\node[bb] (n452) at (580,4205) {2、工作中更严格的要求自己努力提高自己分\\析问题能力和科研能力。};
\node[bb] (n46) at (693,4311) {六、今后工作规划：};
\node[bb] (n461) at (556,4270) {1、积极、认真开展幼儿课题的学习和探讨，\\多方面的提高专业技能。};
\node[bb] (n462) at (556,4351) {2、珍惜教学机会，加大学习力度：一是保持\\工作热情，继续加强自身科学文化知识的学习\\；二是谦虚谨慎，继续加大向领导和各位老师\\的学习。};
\node[bb] (n4621) at (292,4351) {以上就是我这学期的工作总结,不足之处请各位\\领导和老师指正，我一定再接再厉，努力工作\\。在今后工作中，我将用心去爱每一个孩子。\\努力发扬优点，改正缺点，争取更大的进步。};
\foreach \c in {n40,n41,n42,n43,n44,n45,n46} \draw[bc] (t4.west) to[ll] (\c.east);
\draw[bc] (n41.west) -- (n411.east);
\foreach \c in {n421,n422,n423} \draw[bc] (n42.west) to[ll] (\c.east);
\draw[bc] (n421.west) -- (n4211.east);
\draw[bc] (n422.west) -- (n4221.east);
\draw[bc] (n423.west) -- (n4231.east);
\draw[bc] (n43.west) -- (n431.east);
\foreach \c in {n441,n442,n443,n444,n445} \draw[bc] (n44.west) to[ll] (\c.east);
\foreach \c in {n451,n452} \draw[bc] (n45.west) to[ll] (\c.east);
\foreach \c in {n461,n462} \draw[bc] (n46.west) to[ll] (\c.east);
\draw[bc] (n462.west) -- (n4621.east);
\end{tikzpicture}
\end{document}
